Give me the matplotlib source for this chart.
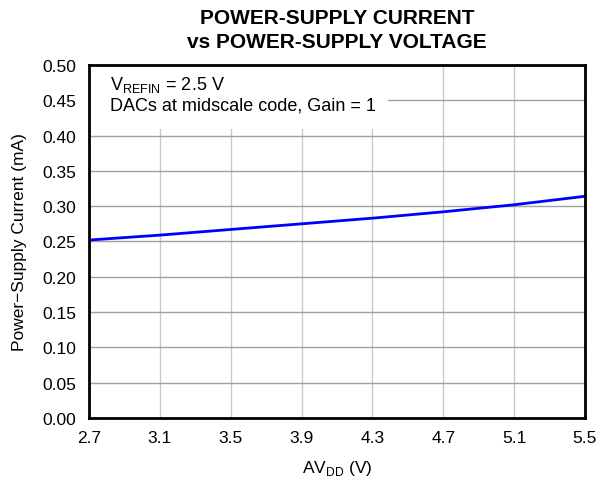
import matplotlib
matplotlib.use('Agg')
from matplotlib import pyplot as plt
from matplotlib.patches import Rectangle
import numpy as np

plt.rcParams['font.family'] = ['Liberation Sans', 'DejaVu Sans']
plt.rcParams['mathtext.fontset'] = 'custom'
plt.rcParams['mathtext.rm'] = 'Liberation Sans'

# supply voltage (V) and supply current (mA)
avdd = [2.7, 3.1, 3.5, 3.9, 4.3, 4.7, 5.1, 5.5]
current = [0.252, 0.259, 0.267, 0.275, 0.283, 0.292, 0.302, 0.314]

xticks = [2.7, 3.1, 3.5, 3.9, 4.3, 4.7, 5.1, 5.5]
yticks = np.arange(0, 0.51, 0.05)

fig = plt.figure(figsize=(5.99, 4.81), dpi=100)
ax = fig.add_axes([0.1486, 0.1289, 0.828, 0.734])

ax.plot(avdd, current, color='#0000ff', lw=2, zorder=3)

ax.set_xlim(2.7, 5.5)
ax.set_ylim(0, 0.5)
ax.set_xticks(xticks)
ax.set_xticklabels(['%.1f' % v for v in xticks])
ax.set_yticks(yticks)
ax.set_yticklabels(['%.2f' % v for v in yticks])
ax.tick_params(length=0, labelsize=12.5)
ax.tick_params(axis='x', pad=9)
ax.tick_params(axis='y', pad=9)

ax.xaxis.grid(True, color='#c8c8c8', lw=1)
ax.yaxis.grid(True, color='#a0a0a0', lw=1)
ax.set_axisbelow(True)
for s in ax.spines.values():
    s.set_linewidth(2)
    s.set_zorder(5)

ax.set_xlabel(r'AV$_{\mathrm{DD}}$ (V)', fontsize=12.5, labelpad=9)
ax.set_ylabel('Power\u2212Supply Current (mA)', fontsize=12.5, labelpad=11)
ax.set_title('POWER-SUPPLY CURRENT\nvs POWER-SUPPLY VOLTAGE',
             fontsize=15, fontweight='bold', pad=13, linespacing=1.3)

# white patch behind the condition note, hides the grid there
ax.add_patch(Rectangle((0, 0.819), 0.603, 0.181, transform=ax.transAxes,
                       facecolor='white', edgecolor='none', zorder=2))
ax.text(0.042, 0.975, 'V$_{\\mathrm{REFIN}}$ = 2.5 V\nDACs at midscale code, Gain = 1',
        transform=ax.transAxes, ha='left', va='top', fontsize=13, linespacing=1.2,
        zorder=4)

fig.savefig('out.png', dpi=100)
